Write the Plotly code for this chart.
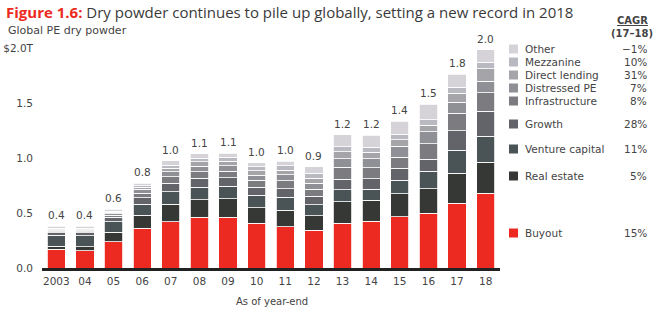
import plotly.graph_objects as go

years = ["2003", "04", "05", "06", "07", "08", "09", "10", "11", "12", "13", "14", "15", "16", "17", "18"]
total_labels = ["0.4", "0.4", "0.6", "0.8", "1.0", "1.1", "1.1", "1.0", "1.0", "0.9", "1.2", "1.2", "1.4", "1.5", "1.8", "2.0"]

buyout          = [0.170, 0.155, 0.240, 0.360, 0.420, 0.460, 0.460, 0.406, 0.375, 0.345, 0.406, 0.427, 0.466, 0.500, 0.590, 0.680]
real_estate     = [0.030, 0.040, 0.085, 0.120, 0.160, 0.160, 0.170, 0.140, 0.150, 0.130, 0.195, 0.190, 0.210, 0.220, 0.270, 0.283]
venture_capital = [0.100, 0.100, 0.095, 0.100, 0.115, 0.115, 0.115, 0.115, 0.120, 0.100, 0.110, 0.100, 0.120, 0.160, 0.210, 0.233]
growth          = [0.020, 0.025, 0.040, 0.060, 0.075, 0.080, 0.075, 0.075, 0.075, 0.077, 0.095, 0.095, 0.110, 0.110, 0.180, 0.230]
infrastructure  = [0.010, 0.010, 0.020, 0.040, 0.060, 0.060, 0.060, 0.060, 0.075, 0.065, 0.110, 0.100, 0.100, 0.140, 0.155, 0.167]
distressed_pe   = [0.010, 0.010, 0.015, 0.035, 0.045, 0.050, 0.050, 0.045, 0.055, 0.055, 0.075, 0.080, 0.100, 0.110, 0.100, 0.107]
direct_lending  = [0.010, 0.010, 0.010, 0.020, 0.030, 0.040, 0.040, 0.045, 0.040, 0.045, 0.065, 0.060, 0.060, 0.060, 0.085, 0.111]
mezzanine       = [0.010, 0.010, 0.010, 0.015, 0.030, 0.035, 0.035, 0.035, 0.040, 0.045, 0.045, 0.045, 0.050, 0.050, 0.055, 0.060]
other           = [0.020, 0.020, 0.020, 0.020, 0.040, 0.040, 0.040, 0.035, 0.040, 0.060, 0.110, 0.110, 0.120, 0.140, 0.115, 0.114]

series_names = ["Buyout", "Real estate", "Venture capital", "Growth", "Infrastructure",
                "Distressed PE", "Direct lending", "Mezzanine", "Other"]
series_values = [buyout, real_estate, venture_capital, growth, infrastructure,
                 distressed_pe, direct_lending, mezzanine, other]
cagr_labels = ["15%", "5%", "11%", "28%", "8%", "7%", "31%", "10%", "\u22121%"]
colors = ["#ec2a22", "#363835", "#4a5457", "#636469", "#7c7c80",
          "#8f9095", "#a5a5a9", "#b9b9c2", "#d5d3d8"]
# legend row centers (pixel y)
legend_rows = [233, 176, 149, 124, 101, 88, 75, 62, 49]

FONT = "DejaVu Sans"
TFONT = "Open Sans"
GRAY = "#444444"

L, R, T, B = 42, 156, 48, 41
W, H = 656, 309
PW, PH = W - L - R, H - T - B


def px(x):
    return (x - L) / PW


def py(y):
    return (H - B - y) / PH


fig = go.Figure()
for name, vals, col in zip(series_names, series_values, colors):
    fig.add_trace(go.Bar(x=years, y=vals, name=name, marker=dict(color=col, line=dict(color="white", width=0.8)),
                         showlegend=False, hoverinfo="y+name"))

totals = [sum(v) for v in zip(*series_values)]

shapes = []
annotations = []
for i, (tot, lab) in enumerate(zip(totals, total_labels)):
    annotations.append(dict(x=i, y=tot, xref="x", yref="y", text=lab, showarrow=False,
                            xanchor="center", yanchor="bottom", yshift=3,
                            font=dict(family=FONT, size=10.5, color=GRAY)))

for name, col, cg, yy in zip(series_names, colors, cagr_labels, legend_rows):
    shapes.append(dict(type="rect", xref="paper", yref="paper", x0=px(509), x1=px(518), y0=py(yy + 4.5), y1=py(yy - 4.5),
                       fillcolor=col, line=dict(width=0)))
    annotations.append(dict(x=px(523), y=py(yy), xref="paper", yref="paper", text=name, showarrow=False,
                            xanchor="left", yanchor="middle", font=dict(family=FONT, size=10.5, color=GRAY)))
    annotations.append(dict(x=px(649), y=py(yy), xref="paper", yref="paper", text=cg, showarrow=False,
                            xanchor="right", yanchor="middle", font=dict(family=FONT, size=10.5, color=GRAY)))

annotations += [
    dict(x=px(4), y=py(12), xref="paper", yref="paper", xanchor="left", yanchor="middle", showarrow=False,
         text="<b><span style='color:#ec2a22'>Figure 1.6:</span></b> Dry powder continues to pile up globally, setting a new record in 2018",
         font=dict(family=TFONT, size=15, color="#3a3a3a")),
    dict(x=px(6), y=py(31), xref="paper", yref="paper", xanchor="left", yanchor="middle", showarrow=False,
         text="Global PE dry powder", font=dict(family=FONT, size=11, color=GRAY)),
    dict(x=px(632), y=py(20), xref="paper", yref="paper", xanchor="center", yanchor="middle", showarrow=False,
         text="<b><u>CAGR</u></b>", font=dict(family=FONT, size=10, color=GRAY)),
    dict(x=px(632), y=py(33), xref="paper", yref="paper", xanchor="center", yanchor="middle", showarrow=False,
         text="<b>(17\u201318)</b>", font=dict(family=FONT, size=10, color=GRAY)),
    dict(x=px(272), y=py(301), xref="paper", yref="paper", xanchor="center", yanchor="middle", showarrow=False,
         text="As of year-end", font=dict(family=FONT, size=10, color=GRAY)),
]

fig.update_layout(
    width=W, height=H, margin=dict(l=L, r=R, t=T, b=B, autoexpand=False),
    barmode="stack", bargap=0.36,
    plot_bgcolor="white", paper_bgcolor="white",
    shapes=shapes, annotations=annotations,
    font=dict(family=FONT, color=GRAY),
    xaxis=dict(type="category", range=[-0.5, len(years) - 0.5], showgrid=False, showline=True,
               linecolor="#222222", linewidth=2.5,
               ticks="", tickfont=dict(family=FONT, size=10.5, color=GRAY), automargin=False,
               ticklabelstandoff=2),
    yaxis=dict(range=[0, 2.0], showgrid=False, zeroline=False, showline=False, ticks="", automargin=False,
               tickvals=[0, 0.5, 1.0, 1.5, 2.0], ticktext=["0.0", "0.5", "1.0", "1.5", "$2.0T"],
               tickfont=dict(family=FONT, size=10.5, color=GRAY), ticklabelstandoff=8),
)

fig.write_html("out.html", config={"displayModeBar": False},
               post_script="document.body.style.margin='0';")
